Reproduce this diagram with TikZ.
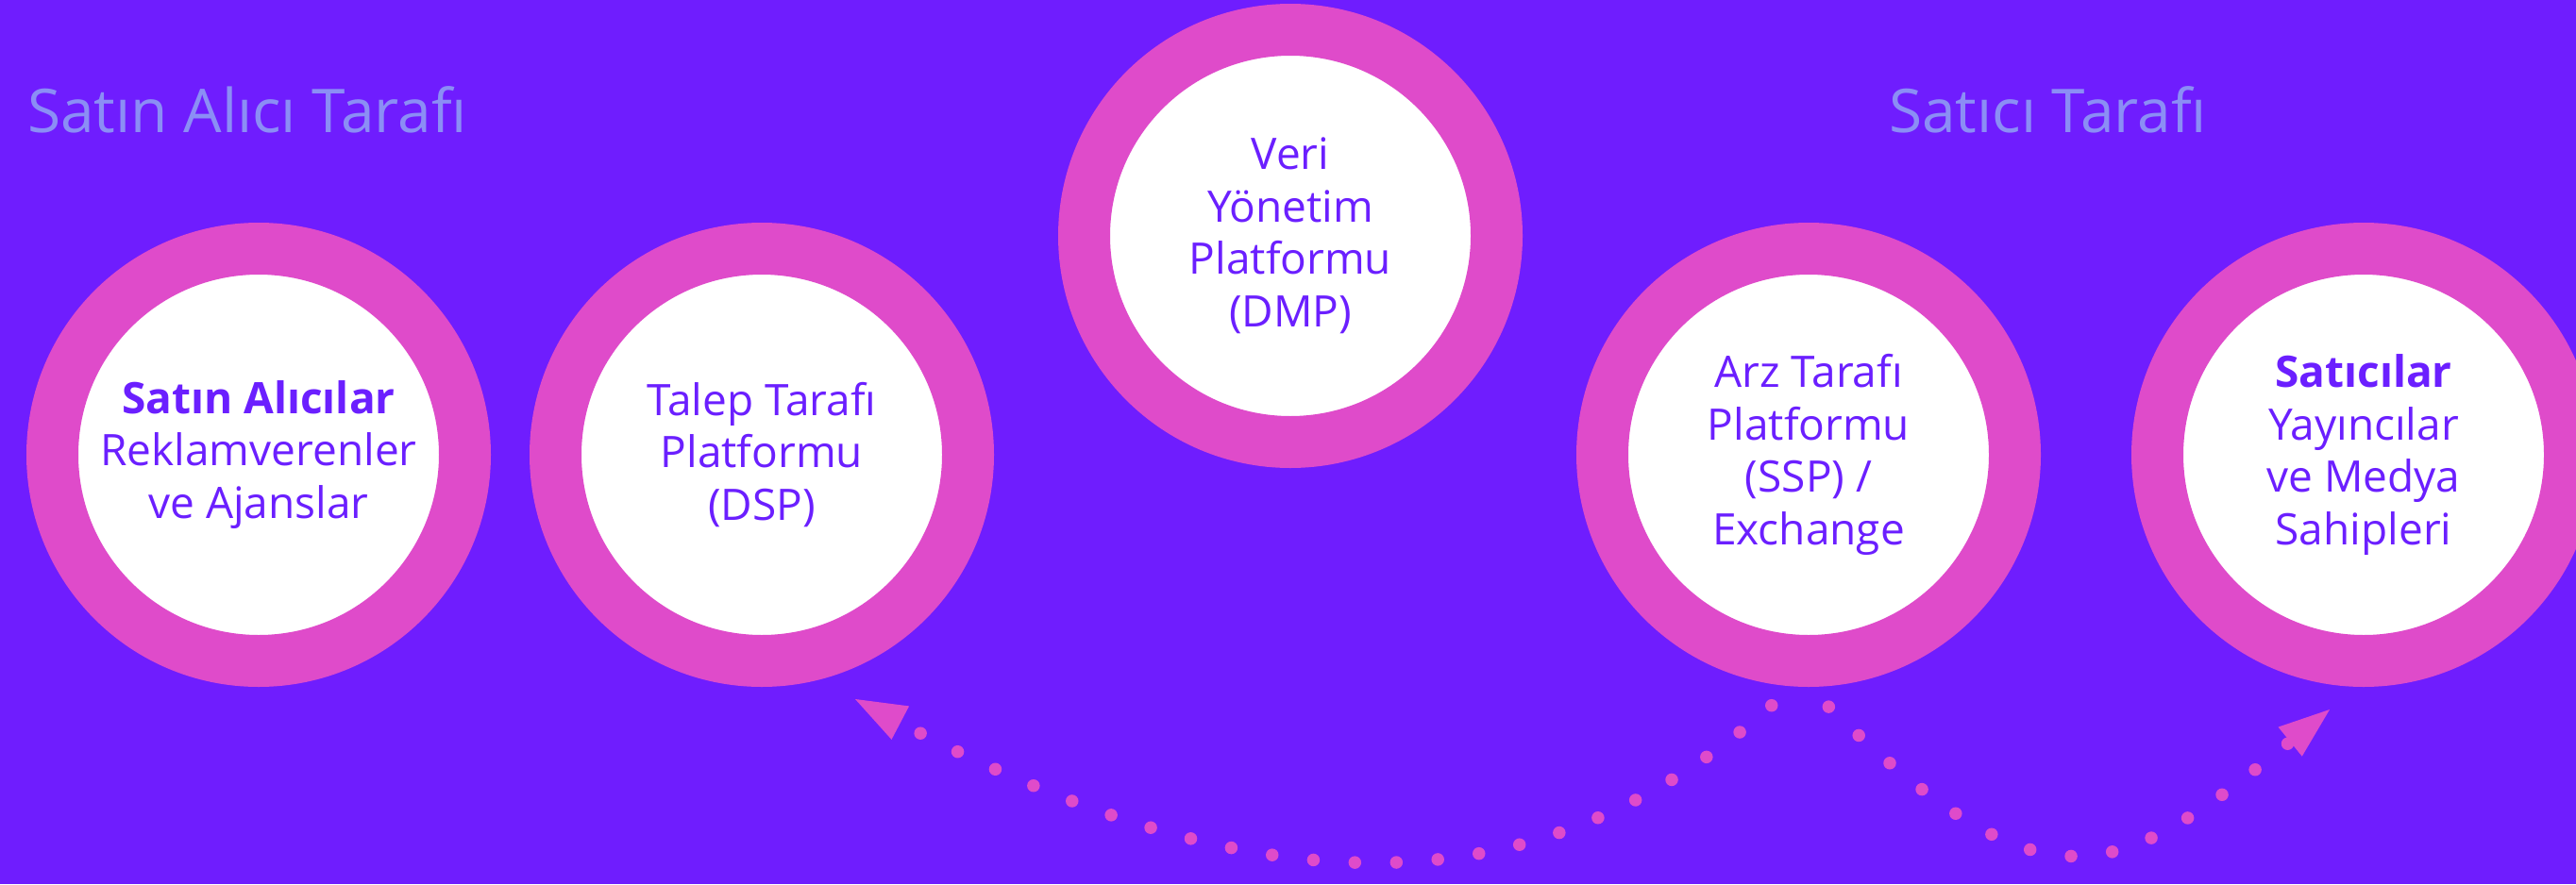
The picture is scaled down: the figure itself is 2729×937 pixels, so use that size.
\documentclass[tikz,border=0pt]{standalone}
\usepackage{fontspec}
\setmainfont{Open Sans}
\usetikzlibrary{arrows.meta}
\definecolor{bgc}{HTML}{6F1DFE}
\definecolor{ringc}{HTML}{DF4BCA}
\definecolor{txtc}{HTML}{6B1FFF}
\definecolor{hdrc}{HTML}{8B8EF5}
\begin{document}
\begin{tikzpicture}[x=1pt,y=-1pt,
  ringnode/.style={circle, draw=ringc, fill=white, line width=55pt, minimum size=437pt,
    inner sep=0pt, align=center, text=txtc, font=\fontsize{46}{55.5}\selectfont},
  header/.style={anchor=base west, inner sep=0pt, text=hdrc, font=\fontsize{64}{70}\selectfont},
  flow/.style={draw=ringc, line width=13.5pt, line cap=round, dash pattern=on 0pt off 44pt,
    dash phase=14pt, -{Triangle[length=54pt,width=40pt,line width=0pt]}}]
\fill[bgc] (0,0) rectangle (2729,937);
\useasboundingbox (0,0) rectangle (2729,937);
\clip (0,0) rectangle (2729,937);

\node[header] (hbuy) at (29,140) {Satın Alıcı Tarafı};
\node[header] (hsell) at (2001,140) {Satıcı Tarafı};

\coordinate (tipL) at (906,741);
\coordinate (tipR) at (2468,752);

\node[ringnode] (buy) at (274,482) {{\bfseries Satın Alıcılar}\\Reklamverenler\\ve Ajanslar};
\node[ringnode] (dsp) at (807,482) {Talep Tarafı\\Platformu\\(DSP)};
\node[ringnode] (dmp) at (1367,250) {Veri\\Yönetim\\Platformu\\(DMP)};
\node[ringnode] (ssp) at (1916,482) {Arz Tarafı\\Platformu\\(SSP) /\\Exchange};
\node[ringnode] (sell) at (2504,482) {{\bfseries Satıcılar}\\Yayıncılar\\ve Medya\\Sahipleri};

\draw[flow] (ssp.266) .. controls (1642,972) and (1338,968) .. (tipL);
\draw[flow] (ssp.south) .. controls (2162,975) and (2237,940) .. (tipR);
\end{tikzpicture}
\end{document}
